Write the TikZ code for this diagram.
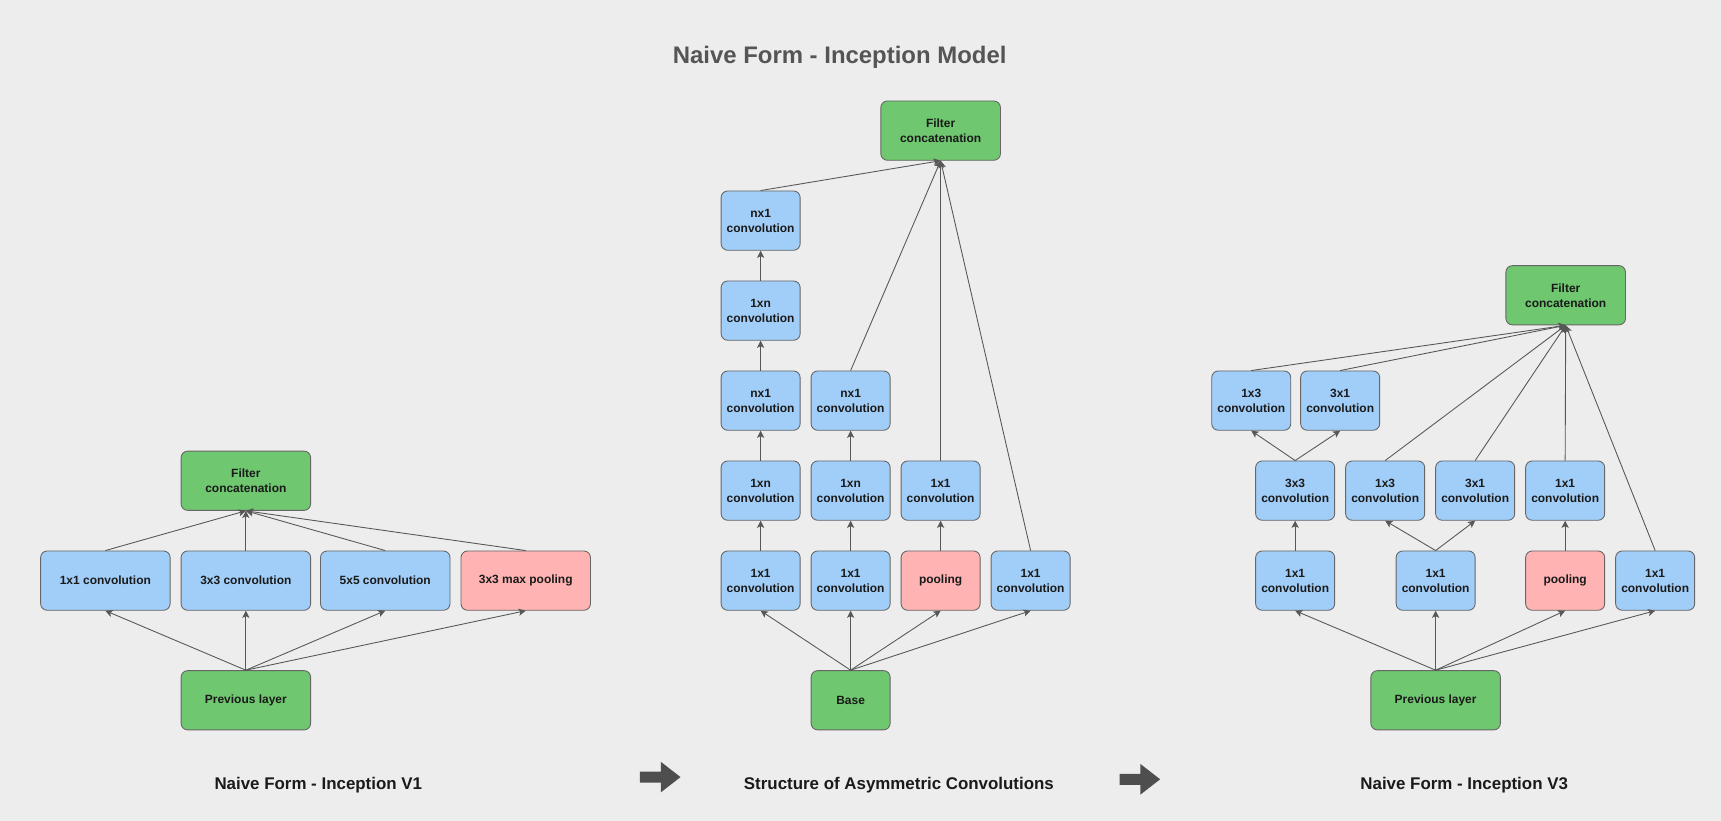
\documentclass[tikz,border=0pt]{standalone}
\usepackage{fontspec}
\setmainfont{Liberation Sans}
\usetikzlibrary{arrows.meta, positioning}
\definecolor{bgGray}{HTML}{EDEDED}
\definecolor{boxGreen}{HTML}{6FC76F}
\definecolor{boxBlue}{HTML}{A1CEF8}
\definecolor{boxPink}{HTML}{FFB3B3}
\definecolor{edgeGray}{HTML}{666666}
\definecolor{lineGray}{HTML}{575757}
\definecolor{titleGray}{HTML}{555555}
\definecolor{mainBlack}{HTML}{1A1A1A}

\begin{document}
\begin{tikzpicture}[x=1pt, y=-1pt,
    box/.style={draw=edgeGray, line width=0.8pt, rounded corners=6pt, minimum height=54pt,
        inner sep=0pt, align=center, text=mainBlack, font=\fontsize{10.9}{13.7}\selectfont\bfseries},
    wide/.style={box, minimum width=118pt},
    slim/.style={box, minimum width=72pt},
    concat/.style={box, fill=boxGreen, minimum width=109pt},
    link/.style={draw=lineGray, line width=0.8pt, -{Stealth[length=6.5pt, width=6.5pt, inset=1.5pt]}},
    caption/.style={text=mainBlack, font=\fontsize{15.4}{18}\selectfont\bfseries}]
    \fill[bgGray] (0,0) rectangle (1568,748);
    \useasboundingbox (0,0) rectangle (1568,748);

    \node[text=titleGray, font=\fontsize{21.8}{26}\selectfont\bfseries] (title) at (765,52) {Naive Form - Inception Model};

    % Inception V1
    \node[wide, fill=boxGreen] (vcat) at (224,438) {Filter\\concatenation};
    \node[wide, fill=boxBlue] (va) at (96,529) {1x1 convolution};
    \node[wide, fill=boxBlue] (vb) at (224,529) {3x3 convolution};
    \node[wide, fill=boxBlue] (vc) at (351,529) {5x5 convolution};
    \node[wide, fill=boxPink] (vd) at (479,529) {3x3 max pooling};
    \node[wide, fill=boxGreen] (vprev) at (224,638) {Previous layer};
    \foreach \n in {va,vb,vc,vd} {
        \draw[link] (vprev.north) -- (\n.south);
        \draw[link] (\n.north) -- (vcat.south);
    }
    \node[caption] (vcap) at (290,715) {Naive Form - Inception V1};

    % Asymmetric convolutions
    \node[concat] (acat) at (857,119) {Filter\\concatenation};
    \node[slim, fill=boxBlue] (aa4) at (693,201) {nx1\\convolution};
    \node[slim, fill=boxBlue] (aa3) at (693,283) {1xn\\convolution};
    \node[slim, fill=boxBlue] (aa2) at (693,365) {nx1\\convolution};
    \node[slim, fill=boxBlue] (ab2) at (775,365) {nx1\\convolution};
    \node[slim, fill=boxBlue] (aa1) at (693,447) {1xn\\convolution};
    \node[slim, fill=boxBlue] (ab1) at (775,447) {1xn\\convolution};
    \node[slim, fill=boxBlue] (ac1) at (857,447) {1x1\\convolution};
    \node[slim, fill=boxBlue] (aa0) at (693,529) {1x1\\convolution};
    \node[slim, fill=boxBlue] (ab0) at (775,529) {1x1\\convolution};
    \node[slim, fill=boxPink] (ac0) at (857,529) {pooling};
    \node[slim, fill=boxBlue] (ad0) at (939,529) {1x1\\convolution};
    \node[slim, fill=boxGreen] (abase) at (775,638) {Base};
    \foreach \n in {aa0,ab0,ac0,ad0}
        \draw[link] (abase.north) -- (\n.south);
    \foreach \a/\b in {aa0/aa1, aa1/aa2, aa2/aa3, aa3/aa4, ab0/ab1, ab1/ab2, ac0/ac1}
        \draw[link] (\a.north) -- (\b.south);
    \foreach \n in {aa4,ab2,ac1,ad0}
        \draw[link] (\n.north) -- (acat.south);
    \node[caption] (acap) at (819,715) {Structure of Asymmetric Convolutions};

    % Inception V3
    \node[concat] (tcat) at (1426.5,269) {Filter\\concatenation};
    \node[slim, fill=boxBlue] (ta2) at (1140,365) {1x3\\convolution};
    \node[slim, fill=boxBlue] (tb2) at (1221,365) {3x1\\convolution};
    \node[slim, fill=boxBlue] (ta1) at (1180,447) {3x3\\convolution};
    \node[slim, fill=boxBlue] (tb1) at (1262,447) {1x3\\convolution};
    \node[slim, fill=boxBlue] (tc1) at (1344,447) {3x1\\convolution};
    \node[slim, fill=boxBlue] (td1) at (1426,447) {1x1\\convolution};
    \node[slim, fill=boxBlue] (ta0) at (1180,529) {1x1\\convolution};
    \node[slim, fill=boxBlue] (tb0) at (1308,529) {1x1\\convolution};
    \node[slim, fill=boxPink] (tc0) at (1426,529) {pooling};
    \node[slim, fill=boxBlue] (td0) at (1508,529) {1x1\\convolution};
    \node[wide, fill=boxGreen] (tprev) at (1308,638) {Previous layer};
    \foreach \n in {ta0,tb0,tc0,td0}
        \draw[link] (tprev.north) -- (\n.south);
    \foreach \a/\b in {ta0/ta1, tb0/tb1, tb0/tc1, tc0/td1, ta1/ta2, ta1/tb2}
        \draw[link] (\a.north) -- (\b.south);
    \foreach \n in {ta2,tb2,tb1,tc1,td1,td0}
        \draw[link] (\n.north) -- (tcat.south);
    \node[caption] (tcap) at (1334,715) {Naive Form - Inception V3};

    % Block arrows
    \fill[lineGray!90!black] (583,703) -- (602,703) -- (602,694) -- (620,708) -- (602,722) -- (602,713) -- (583,713) -- cycle;
    \fill[lineGray!90!black] (1020,705) -- (1039,705) -- (1039,696) -- (1057,710) -- (1039,724) -- (1039,715) -- (1020,715) -- cycle;
\end{tikzpicture}
\end{document}
